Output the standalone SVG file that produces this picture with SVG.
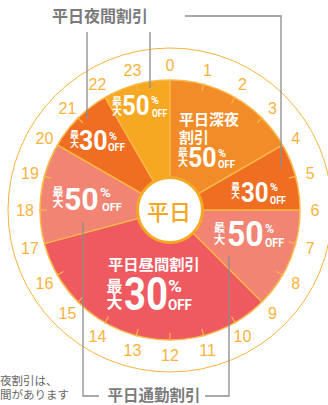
<svg xmlns="http://www.w3.org/2000/svg" width="328" height="405" viewBox="0 0 328 405">
<style>
.hr{font-family:"Liberation Sans",Arial,sans-serif;font-size:16px;fill:#F9B33D;text-anchor:middle}
.jp{font-family:"Noto Sans CJK JP",sans-serif;font-weight:700;fill:#fff}
.lab{font-family:Roboto,"Liberation Sans",sans-serif;font-weight:700;fill:#fff}
.v{font-family:"Noto Sans CJK JP",sans-serif;font-weight:700;fill:#fff;writing-mode:vertical-rl}
.gray{font-family:"Noto Sans CJK JP",sans-serif;font-weight:700;fill:#7a7a7a}
.note{font-family:"Noto Sans CJK JP",sans-serif;font-size:11.5px;fill:#666}
.sep{stroke:#F9B847;stroke-width:1.5;fill:none}
.tick{stroke:#F9B847;stroke-width:1.2}
.call{stroke:#8c8c8c;stroke-width:1.3;fill:none}
</style>
<rect width="328" height="405" fill="#fff"/>
<circle cx="170" cy="210" r="162" fill="none" stroke="#F9B33D" stroke-width="1"/>
<g id="seg-yoru50"><path d="M170,210 L105,97.42 A130,130 0 0 1 170,80 Z" fill="#F7A823"/></g>
<g id="seg-shinya"><path d="M170,210 L170,80 A130,130 0 0 1 282.58,145 Z" fill="#F28C28"/></g>
<g id="seg-yoru30r"><path d="M170,210 L282.58,145 A130,130 0 0 1 300,210 Z" fill="#F06E22"/></g>
<g id="seg-tsukin-r"><path d="M170,210 L300,210 A130,130 0 0 1 261.92,301.92 Z" fill="#F18473"/></g>
<g id="seg-hiruma"><path d="M170,210 L261.92,301.92 A130,130 0 0 1 44.43,243.65 Z" fill="#EE5A5F"/></g>
<g id="seg-tsukin-l"><path d="M170,210 L44.43,243.65 A130,130 0 0 1 57.42,145 Z" fill="#F18473"/></g>
<g id="seg-yoru30l"><path d="M170,210 L57.42,145 A130,130 0 0 1 105,97.42 Z" fill="#F06E22"/></g>
<g id="connectors">
<circle cx="170" cy="210" r="130" class="sep" stroke-width="1"/>
<line class="sep" x1="170" y1="210" x2="170" y2="80"/>
<line class="sep" x1="170" y1="210" x2="282.58" y2="145"/>
<line class="sep" x1="170" y1="210" x2="300" y2="210"/>
<line class="sep" x1="170" y1="210" x2="261.92" y2="301.92"/>
<line class="sep" x1="170" y1="210" x2="44.43" y2="243.65"/>
<line class="sep" x1="170" y1="210" x2="57.42" y2="145"/>
<line class="sep" x1="170" y1="210" x2="105" y2="97.42"/>
<g class="tick">
<line x1="170" y1="87" x2="170" y2="79" transform="rotate(15 170 210)"/>
<line x1="170" y1="87" x2="170" y2="79" transform="rotate(30 170 210)"/>
<line x1="170" y1="87" x2="170" y2="79" transform="rotate(45 170 210)"/>
<line x1="170" y1="87" x2="170" y2="79" transform="rotate(75 170 210)"/>
<line x1="170" y1="87" x2="170" y2="79" transform="rotate(105 170 210)"/>
<line x1="170" y1="87" x2="170" y2="79" transform="rotate(120 170 210)"/>
<line x1="170" y1="87" x2="170" y2="79" transform="rotate(150 170 210)"/>
<line x1="170" y1="87" x2="170" y2="79" transform="rotate(165 170 210)"/>
<line x1="170" y1="87" x2="170" y2="79" transform="rotate(180 170 210)"/>
<line x1="170" y1="87" x2="170" y2="79" transform="rotate(195 170 210)"/>
<line x1="170" y1="87" x2="170" y2="79" transform="rotate(210 170 210)"/>
<line x1="170" y1="87" x2="170" y2="79" transform="rotate(225 170 210)"/>
<line x1="170" y1="87" x2="170" y2="79" transform="rotate(240 170 210)"/>
<line x1="170" y1="87" x2="170" y2="79" transform="rotate(270 170 210)"/>
<line x1="170" y1="87" x2="170" y2="79" transform="rotate(285 170 210)"/>
<line x1="170" y1="87" x2="170" y2="79" transform="rotate(315 170 210)"/>
<line x1="170" y1="87" x2="170" y2="79" transform="rotate(345 170 210)"/>
</g>
<polyline class="call" points="87,32 87,119"/>
<polyline class="call" points="150,32 150,88"/>
<polyline class="call" points="185,16 281,16 281,168"/>
<polyline class="call" points="83,222 83,396 99,396"/>
<polyline class="call" points="229,256 229,396 205,396"/>
</g>
<g id="center"><circle cx="170" cy="210" r="32.5" fill="#fff" stroke="#F7A823" stroke-width="3"/>
<text x="169" y="220" font-family="'Noto Sans CJK JP',sans-serif" font-size="22" font-weight="500" fill="#F5A623" text-anchor="middle">平日</text></g>
<g id="hours">
<text class="hr" x="170" y="71">0</text>
<text class="hr" x="207.5" y="75.9">1</text>
<text class="hr" x="242.5" y="90.4">2</text>
<text class="hr" x="272.5" y="113.5">3</text>
<text class="hr" x="295.6" y="143.5">4</text>
<text class="hr" x="310.1" y="178.5">5</text>
<text class="hr" x="315" y="216">6</text>
<text class="hr" x="310.1" y="253.5">7</text>
<text class="hr" x="295.6" y="288.5">8</text>
<text class="hr" x="272.5" y="318.5">9</text>
<text class="hr" x="242.5" y="341.6">10</text>
<text class="hr" x="207.5" y="356.1">11</text>
<text class="hr" x="170" y="361">12</text>
<text class="hr" x="132.5" y="356.1">13</text>
<text class="hr" x="97.5" y="341.6">14</text>
<text class="hr" x="67.5" y="318.5">15</text>
<text class="hr" x="44.4" y="288.5">16</text>
<text class="hr" x="29.9" y="253.5">17</text>
<text class="hr" x="25" y="216">18</text>
<text class="hr" x="29.9" y="178.5">19</text>
<text class="hr" x="44.4" y="143.5">20</text>
<text class="hr" x="67.5" y="113.5">21</text>
<text class="hr" x="97.5" y="90.4">22</text>
<text class="hr" x="132.5" y="75.9">23</text>
</g>
<g id="label-yoru50">
<text class="v" x="117" y="96" font-size="10">最大</text>
<text class="lab" transform="translate(122 115) scale(0.89 1)" font-size="27">50</text>
<text class="lab"><tspan x="151" y="103.5" font-size="11" textLength="8" lengthAdjust="spacingAndGlyphs">%</tspan><tspan x="152" y="116.5" font-size="11" textLength="15" lengthAdjust="spacingAndGlyphs">OFF</tspan></text>
</g>
<g id="label-shinya">
<text class="jp" font-size="15"><tspan x="179" y="125">平日深夜</tspan><tspan x="179" y="143">割引</tspan></text>
<text class="v" x="183" y="147" font-size="10">最大</text>
<text class="lab" transform="translate(188 167) scale(0.89 1)" font-size="28">50</text>
<text class="lab"><tspan x="218" y="156.5" font-size="11" textLength="8" lengthAdjust="spacingAndGlyphs">%</tspan><tspan x="218" y="167.5" font-size="11" textLength="17" lengthAdjust="spacingAndGlyphs">OFF</tspan></text>
</g>
<g id="label-yoru30r">
<text class="v" x="235.5" y="182" font-size="8.7">最大</text>
<text class="lab" transform="translate(241 202) scale(0.86 1)" font-size="28">30</text>
<text class="lab"><tspan x="270" y="190.5" font-size="11" textLength="8" lengthAdjust="spacingAndGlyphs">%</tspan><tspan x="270" y="203.5" font-size="10.5" textLength="16" lengthAdjust="spacingAndGlyphs">OFF</tspan></text>
</g>
<g id="label-tsukin-r">
<text class="v" x="219.5" y="222" font-size="11.5">最大</text>
<text class="lab" transform="translate(227 246) scale(0.89 1)" font-size="36">50</text>
<text class="lab"><tspan x="265" y="232.5" font-size="13" textLength="9" lengthAdjust="spacingAndGlyphs">%</tspan><tspan x="265" y="246.5" font-size="12" textLength="19" lengthAdjust="spacingAndGlyphs">OFF</tspan></text>
</g>
<g id="label-tsukin-l">
<text class="v" x="58" y="186" font-size="11">最大</text>
<text class="lab" transform="translate(64 210) scale(0.946 1)" font-size="32">50</text>
<text class="lab"><tspan x="100" y="196.5" font-size="13" textLength="11" lengthAdjust="spacingAndGlyphs">%</tspan><tspan x="102" y="210.5" font-size="11.5" textLength="20" lengthAdjust="spacingAndGlyphs">OFF</tspan></text>
</g>
<g id="label-yoru30l">
<text class="v" x="74.5" y="130" font-size="9">最大</text>
<text class="lab" transform="translate(79 150) scale(0.923 1)" font-size="27">30</text>
<text class="lab"><tspan x="109" y="139.5" font-size="11" textLength="8" lengthAdjust="spacingAndGlyphs">%</tspan><tspan x="108" y="150.5" font-size="10" textLength="17" lengthAdjust="spacingAndGlyphs">OFF</tspan></text>
</g>
<g id="label-hiruma">
<text class="jp" x="108" y="270" font-size="15.3">平日昼間割引</text>
<text class="v" x="114.5" y="278" font-size="16">最大</text>
<text class="lab" transform="translate(124 310) scale(0.832 1)" font-size="46">30</text>
<text class="lab"><tspan x="168" y="292" font-size="17" textLength="14" lengthAdjust="spacingAndGlyphs">%</tspan><tspan x="168" y="310" font-size="14" textLength="24" lengthAdjust="spacingAndGlyphs">OFF</tspan></text>
</g>
<g id="title-yakan"><text class="gray" x="100" y="22" font-size="16" text-anchor="middle">平日夜間割引</text></g>
<g id="title-tsukin"><text class="gray" x="154" y="401" font-size="15.5" text-anchor="middle">平日通勤割引</text></g>
<g id="note">
<text class="note"><tspan x="0" y="385">夜割引は、</tspan><tspan x="0" y="399">間があります</tspan></text>
</g>
</svg>
